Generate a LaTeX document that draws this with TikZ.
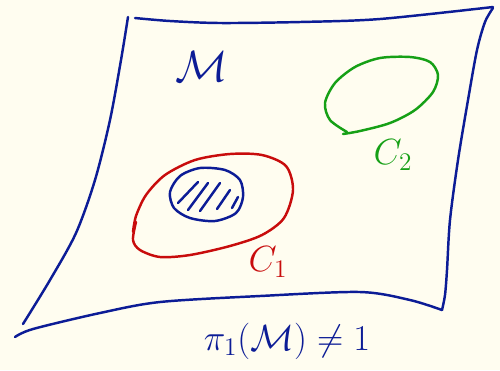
\documentclass[tikz,border=0pt]{standalone}
\usepackage{amsmath,amssymb}
\begin{document}
\begin{tikzpicture}[x=0.02cm,y=-0.02cm,
trait/.style={line width=1.4pt,line cap=round,line join=round},
etiquette/.style={inner sep=0pt,font=\fontsize{20}{20}\selectfont}]
\definecolor{fond}{RGB}{255,253,240}
\definecolor{bleu}{RGB}{12,28,150}
\definecolor{rouge}{RGB}{200,12,12}
\definecolor{vert}{RGB}{22,160,22}
\fill[fond] (0,0) rectangle (500,370);
\useasboundingbox (0,0) rectangle (500,370);
% la surface M
\draw[trait,bleu] plot[smooth] coordinates {(128,17) (121,60) (110,120) (95,180) (76,233) (50,280) (23,324)};
\draw[trait,bleu] plot[smooth] coordinates {(135,18) (170,21) (220,23) (300,22) (380,19) (493,7)};
\draw[trait,bleu] plot[smooth] coordinates {(493,8) (485,22) (477,50) (468,100) (458,160) (450,220) (447,270) (445,295) (442,310)};
\draw[trait,bleu] plot[smooth] coordinates {(15,337) (33,329) (100,313) (160,302) (260,296) (360,292) (410,300) (442,310)};
\node[etiquette,text=bleu] (nomM) at (202,67) {\fontsize{32}{32}\selectfont$\mathcal{M}$};
% le lacet C1 et le disque hachure
\draw[trait,rouge] plot[smooth] coordinates {(136,222) (133,240) (140,250) (160,257) (190,255) (230,246) (262,235) (284,218) (293,190) (286,166) (262,155) (230,154) (195,160) (165,175) (146,195) (136,216) (133,232)};
\draw[trait,bleu] plot[smooth cycle] coordinates {(170,192) (180,176) (200,168) (225,170) (240,180) (243,197) (236,213) (215,221) (190,218) (174,208)};
\foreach \xa/\ya/\xb/\yb in {178/203/198/182, 188/210/208/183, 200/211/220/183, 217/209/230/190, 232/208/238/197}
  \draw[trait,bleu] (\xa,\ya) -- (\xb,\yb);
\node[etiquette,text=rouge] (nomC1) at (268,262) {$C_1$};
% le lacet C2
\draw[trait,vert] plot[smooth] coordinates {(343,134) (360,131) (390,123) (415,110) (433,92) (438,75) (430,62) (410,57) (380,58) (355,67) (335,83) (325,103) (330,120) (347,132)};
\node[etiquette,text=vert] (nomC2) at (393,155) {$C_2$};
% groupe fondamental
\node[etiquette,text=bleu] (groupe) at (287,341) {$\pi_1(\mathcal{M})\neq 1$};
\end{tikzpicture}
\end{document}
